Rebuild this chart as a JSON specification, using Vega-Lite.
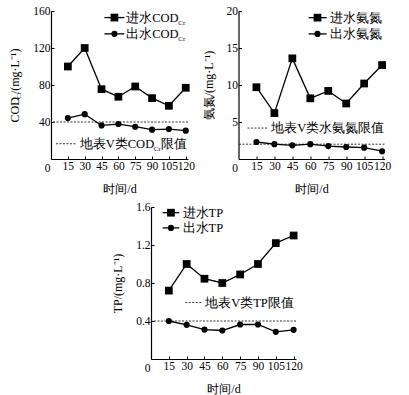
{
  "$schema": "https://vega.github.io/schema/vega-lite/v6.json",
  "background": "white",
  "padding": {"left": 8, "top": 5, "right": 2, "bottom": 2},
  "datasets": {
    "cod": [
      {"day": 15, "series": "进水", "value": 100},
      {"day": 30, "series": "进水", "value": 120},
      {"day": 45, "series": "进水", "value": 75.5},
      {"day": 60, "series": "进水", "value": 67.3},
      {"day": 75, "series": "进水", "value": 78.4},
      {"day": 90, "series": "进水", "value": 65.8},
      {"day": 105, "series": "进水", "value": 57.5},
      {"day": 120, "series": "进水", "value": 77},
      {"day": 15, "series": "出水", "value": 44.2},
      {"day": 30, "series": "出水", "value": 48.5},
      {"day": 45, "series": "出水", "value": 36.3},
      {"day": 60, "series": "出水", "value": 37.8},
      {"day": 75, "series": "出水", "value": 34.9},
      {"day": 90, "series": "出水", "value": 31.7},
      {"day": 105, "series": "出水", "value": 32.4},
      {"day": 120, "series": "出水", "value": 30.6}
    ],
    "nh": [
      {"day": 15, "series": "进水", "value": 9.7},
      {"day": 30, "series": "进水", "value": 6.2},
      {"day": 45, "series": "进水", "value": 13.6},
      {"day": 60, "series": "进水", "value": 8.2},
      {"day": 75, "series": "进水", "value": 9.2},
      {"day": 90, "series": "进水", "value": 7.5},
      {"day": 105, "series": "进水", "value": 10.2},
      {"day": 120, "series": "进水", "value": 12.7},
      {"day": 15, "series": "出水", "value": 2.3},
      {"day": 30, "series": "出水", "value": 2.0},
      {"day": 45, "series": "出水", "value": 1.85},
      {"day": 60, "series": "出水", "value": 2.0},
      {"day": 75, "series": "出水", "value": 1.75},
      {"day": 90, "series": "出水", "value": 1.62},
      {"day": 105, "series": "出水", "value": 1.53},
      {"day": 120, "series": "出水", "value": 1.05}
    ],
    "tp": [
      {"day": 15, "series": "进水", "value": 0.72},
      {"day": 30, "series": "进水", "value": 1.0},
      {"day": 45, "series": "进水", "value": 0.845},
      {"day": 60, "series": "进水", "value": 0.8},
      {"day": 75, "series": "进水", "value": 0.89},
      {"day": 90, "series": "进水", "value": 1.0},
      {"day": 105, "series": "进水", "value": 1.22},
      {"day": 120, "series": "进水", "value": 1.3},
      {"day": 15, "series": "出水", "value": 0.4},
      {"day": 30, "series": "出水", "value": 0.36},
      {"day": 45, "series": "出水", "value": 0.31},
      {"day": 60, "series": "出水", "value": 0.3},
      {"day": 75, "series": "出水", "value": 0.363},
      {"day": 90, "series": "出水", "value": 0.363},
      {"day": 105, "series": "出水", "value": 0.286},
      {"day": 120, "series": "出水", "value": 0.307}
    ]
  },
  "vconcat": [
    {
      "hconcat": [
        {
          "width": 137,
          "height": 148,
          "data": {"name": "cod"},
          "layer": [
            {"data": {"values": [{}]}, "mark": {"type": "rule", "strokeDash": [2, 1.5], "color": "#333", "strokeWidth": 1}, "encoding": {"y": {"datum": 40, "type": "quantitative", "axis": null}}},
            {
              "mark": {"type": "line", "color": "black", "strokeWidth": 1.3},
              "encoding": {
                "x": {"field": "day", "type": "quantitative", "scale": {"domain": [0, 122], "nice": false}, "axis": {"values": [15, 30, 45, 60, 75, 90, 105, 120], "tickCount": 20, "title": "时间/d", "labelOverlap": false}},
                "y": {"field": "value", "type": "quantitative", "scale": {"domain": [0, 160], "nice": false}, "axis": {"values": [0, 40, 80, 120, 160], "tickCount": 20, "title": "COD  /(mg·L⁻¹)", "labelOverlap": false, "labelOffset": {"condition": {"test": "datum.value === 0", "value": 9}, "value": 0}}},
                "detail": {"field": "series"}
              }
            },
            {
              "mark": {"type": "point", "filled": true, "color": "black", "opacity": 1},
              "encoding": {
                "x": {"field": "day", "type": "quantitative"},
                "y": {"field": "value", "type": "quantitative", "axis": {"orient": "right", "title": "Cr", "titleFontSize": 7, "labels": false, "ticks": false, "domain": false, "titleAngle": 270, "titleX": -170, "titleY": 84, "titleAlign": "center", "titleBaseline": "middle"}},
                "shape": {"field": "series", "scale": {"domain": ["进水", "出水"], "range": ["square", "circle"]}, "legend": null},
                "size": {"field": "series", "scale": {"domain": ["进水", "出水"], "range": [60, 38]}, "legend": null}
              }
            },
            {"data": {"values": [{}]}, "mark": {"type": "rule", "color": "black", "strokeWidth": 1.3}, "encoding": {"x": {"datum": 47.6}, "x2": {"datum": 65.3}, "y": {"datum": 152.9, "axis": null}}},
            {"data": {"values": [{}]}, "mark": {"type": "point", "shape": "square", "filled": true, "size": 60, "color": "black", "opacity": 1}, "encoding": {"x": {"datum": 56.5}, "y": {"datum": 152.9, "axis": null}}},
            {"data": {"values": [{}]}, "mark": {"type": "rule", "color": "black", "strokeWidth": 1.3}, "encoding": {"x": {"datum": 47.6}, "x2": {"datum": 65.3}, "y": {"datum": 135.3, "axis": null}}},
            {"data": {"values": [{}]}, "mark": {"type": "point", "shape": "circle", "filled": true, "size": 38, "color": "black", "opacity": 1}, "encoding": {"x": {"datum": 56.5}, "y": {"datum": 135.3, "axis": null}}},
            {"data": {"values": [{}]}, "mark": {"type": "text", "text": "进水COD", "align": "left", "baseline": "middle", "fontSize": 12.5, "color": "black"}, "encoding": {"x": {"datum": 67}, "y": {"datum": 152.9, "axis": null}}},
            {"data": {"values": [{}]}, "mark": {"type": "text", "text": "Cr", "align": "left", "baseline": "middle", "fontSize": 7, "dx": 52, "dy": 5, "color": "black"}, "encoding": {"x": {"datum": 67}, "y": {"datum": 152.9, "axis": null}}},
            {"data": {"values": [{}]}, "mark": {"type": "text", "text": "出水COD", "align": "left", "baseline": "middle", "fontSize": 12.5, "color": "black"}, "encoding": {"x": {"datum": 67}, "y": {"datum": 135.3, "axis": null}}},
            {"data": {"values": [{}]}, "mark": {"type": "text", "text": "Cr", "align": "left", "baseline": "middle", "fontSize": 7, "dx": 52, "dy": 5, "color": "black"}, "encoding": {"x": {"datum": 67}, "y": {"datum": 135.3, "axis": null}}},
            {"data": {"values": [{}]}, "mark": {"type": "rule", "strokeDash": [2, 1.5], "color": "#333", "strokeWidth": 1}, "encoding": {"x": {"datum": 4.4}, "x2": {"datum": 22}, "y": {"datum": 16.5, "axis": null}}},
            {"data": {"values": [{}]}, "mark": {"type": "text", "text": "地表V类COD", "align": "left", "baseline": "middle", "fontSize": 12.5, "color": "black"}, "encoding": {"x": {"datum": 25.6}, "y": {"datum": 16.5, "axis": null}}},
            {"data": {"values": [{}]}, "mark": {"type": "text", "text": "Cr", "align": "left", "baseline": "middle", "fontSize": 7, "dx": 74, "dy": 5, "color": "black"}, "encoding": {"x": {"datum": 25.6}, "y": {"datum": 16.5, "axis": null}}},
            {"data": {"values": [{}]}, "mark": {"type": "text", "text": "限值", "align": "left", "baseline": "middle", "fontSize": 12.5, "dx": 81, "color": "black"}, "encoding": {"x": {"datum": 25.6}, "y": {"datum": 16.5, "axis": null}}}
          ],
          "resolve": {"axis": {"y": "independent"}}
        },
        {
          "width": 146,
          "height": 148,
          "data": {"name": "nh"},
          "layer": [
            {"data": {"values": [{}]}, "mark": {"type": "rule", "strokeDash": [2, 1.5], "color": "#333", "strokeWidth": 1}, "encoding": {"y": {"datum": 2}}},
            {
              "mark": {"type": "line", "color": "black", "strokeWidth": 1.3},
              "encoding": {
                "x": {"field": "day", "type": "quantitative", "scale": {"domain": [0, 122], "nice": false}, "axis": {"values": [15, 30, 45, 60, 75, 90, 105, 120], "tickCount": 20, "title": "时间/d", "labelOverlap": false}},
                "y": {"field": "value", "type": "quantitative", "scale": {"domain": [0, 20], "nice": false}, "axis": {"values": [0, 5, 10, 15, 20], "tickCount": 20, "title": "氨氮/(mg·L⁻¹)", "labelOverlap": false, "labelOffset": {"condition": {"test": "datum.value === 0", "value": 9}, "value": 0}}},
                "detail": {"field": "series"}
              }
            },
            {
              "mark": {"type": "point", "filled": true, "color": "black", "opacity": 1},
              "encoding": {
                "x": {"field": "day", "type": "quantitative"},
                "y": {"field": "value", "type": "quantitative"},
                "shape": {"field": "series", "scale": {"domain": ["进水", "出水"], "range": ["square", "circle"]}, "legend": null},
                "size": {"field": "series", "scale": {"domain": ["进水", "出水"], "range": [60, 38]}, "legend": null}
              }
            },
            {"data": {"values": [{}]}, "mark": {"type": "rule", "color": "black", "strokeWidth": 1.3}, "encoding": {"x": {"datum": 58.6}, "x2": {"datum": 73.7}, "y": {"datum": 19.1}}},
            {"data": {"values": [{}]}, "mark": {"type": "point", "shape": "square", "filled": true, "size": 60, "color": "black", "opacity": 1}, "encoding": {"x": {"datum": 66}, "y": {"datum": 19.1}}},
            {"data": {"values": [{}]}, "mark": {"type": "rule", "color": "black", "strokeWidth": 1.3}, "encoding": {"x": {"datum": 58.6}, "x2": {"datum": 73.7}, "y": {"datum": 16.9}}},
            {"data": {"values": [{}]}, "mark": {"type": "point", "shape": "circle", "filled": true, "size": 38, "color": "black", "opacity": 1}, "encoding": {"x": {"datum": 66}, "y": {"datum": 16.9}}},
            {"data": {"values": [{}]}, "mark": {"type": "text", "text": "进水氨氮", "align": "left", "baseline": "middle", "fontSize": 12.5, "color": "black"}, "encoding": {"x": {"datum": 76.5}, "y": {"datum": 19.1}}},
            {"data": {"values": [{}]}, "mark": {"type": "text", "text": "出水氨氮", "align": "left", "baseline": "middle", "fontSize": 12.5, "color": "black"}, "encoding": {"x": {"datum": 76.5}, "y": {"datum": 16.9}}},
            {"data": {"values": [{}]}, "mark": {"type": "rule", "strokeDash": [2, 1.5], "color": "#333", "strokeWidth": 1}, "encoding": {"x": {"datum": 7.5}, "x2": {"datum": 24}, "y": {"datum": 4.18}}},
            {"data": {"values": [{}]}, "mark": {"type": "text", "text": "地表V类水氨氮限值", "align": "left", "baseline": "middle", "fontSize": 12.5, "color": "black"}, "encoding": {"x": {"datum": 27.3}, "y": {"datum": 4.18}}}
          ]
        }
      ],
      "spacing": 6.5,
      "align": "none"
    },
    {
      "hconcat": [
        {"width": 40, "height": 152, "data": {"values": []}, "mark": "point", "encoding": {}},
        {
          "width": 145,
          "height": 152,
          "data": {"name": "tp"},
          "layer": [
            {"data": {"values": [{}]}, "mark": {"type": "rule", "strokeDash": [2, 1.5], "color": "#333", "strokeWidth": 1}, "encoding": {"y": {"datum": 0.4}}},
            {
              "mark": {"type": "line", "color": "black", "strokeWidth": 1.3},
              "encoding": {
                "x": {"field": "day", "type": "quantitative", "scale": {"domain": [0, 122], "nice": false}, "axis": {"values": [15, 30, 45, 60, 75, 90, 105, 120], "tickCount": 20, "title": "时间/d", "labelOverlap": false}},
                "y": {"field": "value", "type": "quantitative", "scale": {"domain": [0, 1.6], "nice": false}, "axis": {"values": [0, 0.4, 0.8, 1.2, 1.6], "tickCount": 20, "title": "TP/(mg·L⁻¹)", "labelOverlap": false, "labelExpr": "datum.value === 0 ? '0' : format(datum.value, '.1f')", "labelOffset": {"condition": {"test": "datum.value === 0", "value": 9}, "value": 0}}},
                "detail": {"field": "series"}
              }
            },
            {
              "mark": {"type": "point", "filled": true, "color": "black", "opacity": 1},
              "encoding": {
                "x": {"field": "day", "type": "quantitative"},
                "y": {"field": "value", "type": "quantitative"},
                "shape": {"field": "series", "scale": {"domain": ["进水", "出水"], "range": ["square", "circle"]}, "legend": null},
                "size": {"field": "series", "scale": {"domain": ["进水", "出水"], "range": [60, 38]}, "legend": null}
              }
            },
            {"data": {"values": [{}]}, "mark": {"type": "rule", "color": "black", "strokeWidth": 1.3}, "encoding": {"x": {"datum": 9.8}, "x2": {"datum": 23.8}, "y": {"datum": 1.54}}},
            {"data": {"values": [{}]}, "mark": {"type": "point", "shape": "square", "filled": true, "size": 60, "color": "black", "opacity": 1}, "encoding": {"x": {"datum": 16.8}, "y": {"datum": 1.54}}},
            {"data": {"values": [{}]}, "mark": {"type": "rule", "color": "black", "strokeWidth": 1.3}, "encoding": {"x": {"datum": 9.8}, "x2": {"datum": 23.8}, "y": {"datum": 1.38}}},
            {"data": {"values": [{}]}, "mark": {"type": "point", "shape": "circle", "filled": true, "size": 38, "color": "black", "opacity": 1}, "encoding": {"x": {"datum": 16.8}, "y": {"datum": 1.38}}},
            {"data": {"values": [{}]}, "mark": {"type": "text", "text": "进水TP", "align": "left", "baseline": "middle", "fontSize": 12.5, "color": "black"}, "encoding": {"x": {"datum": 26.6}, "y": {"datum": 1.54}}},
            {"data": {"values": [{}]}, "mark": {"type": "text", "text": "出水TP", "align": "left", "baseline": "middle", "fontSize": 12.5, "color": "black"}, "encoding": {"x": {"datum": 26.6}, "y": {"datum": 1.38}}},
            {"data": {"values": [{}]}, "mark": {"type": "rule", "strokeDash": [2, 1.5], "color": "#333", "strokeWidth": 1}, "encoding": {"x": {"datum": 28.8}, "x2": {"datum": 43.4}, "y": {"datum": 0.594}}},
            {"data": {"values": [{}]}, "mark": {"type": "text", "text": "地表V类TP限值", "align": "left", "baseline": "middle", "fontSize": 12.5, "color": "black"}, "encoding": {"x": {"datum": 45.6}, "y": {"datum": 0.594}}}
          ]
        }
      ],
      "spacing": 20,
      "align": "none"
    }
  ],
  "spacing": 6,
  "config": {
    "font": "Liberation Serif",
    "view": {"stroke": null},
    "axis": {
      "grid": false,
      "domainColor": "black",
      "domainWidth": 1.2,
      "tickColor": "black",
      "tickSize": -3,
      "labelColor": "black",
      "titleColor": "black",
      "labelFontSize": 11.5,
      "titleFontSize": 12,
      "titleFontWeight": "normal",
      "labelPadding": 4,
      "labelBound": false,
      "labelFlush": false
    },
    "axisX": {"titlePadding": 12},
    "axisY": {"titlePadding": 11}
  }
}
